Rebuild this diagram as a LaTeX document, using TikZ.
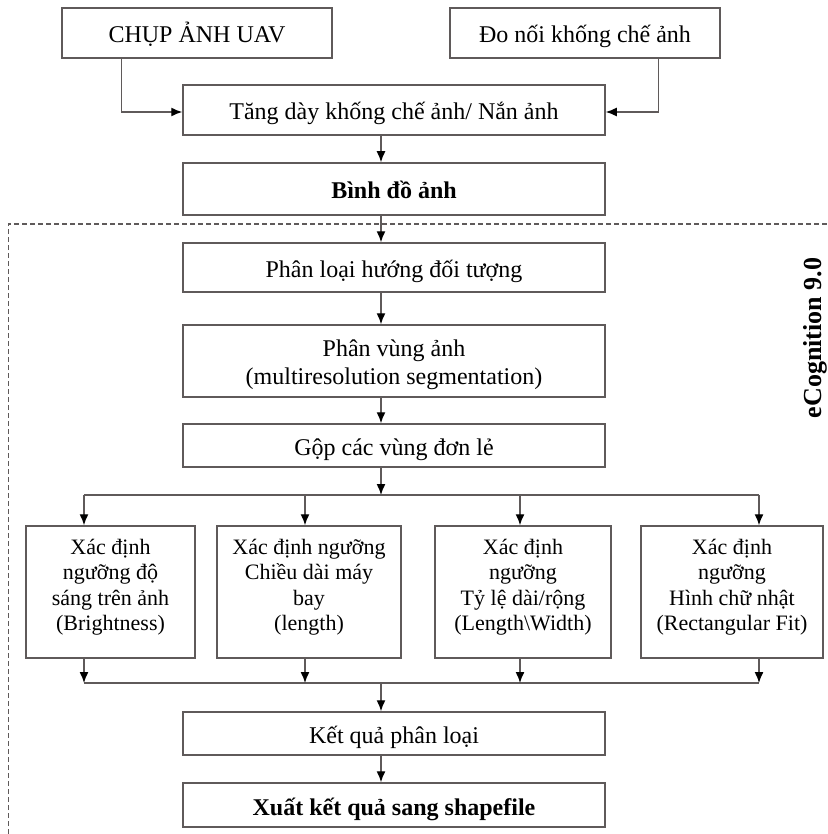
\documentclass[tikz,border=0pt]{standalone}
\usepackage{fontspec}
\setmainfont{Liberation Serif}
\usetikzlibrary{arrows.meta,calc}
\definecolor{ln}{RGB}{95,90,90}
\begin{document}
\begin{tikzpicture}[x=1pt,y=-1pt,
  box/.style={draw=ln,line width=1.5pt,rectangle,inner sep=2pt,align=center,
    font=\fontsize{24}{28.5}\selectfont},
  one/.style={box,text height=22pt,text depth=2pt},
  smallbox/.style={box,font=\fontsize{22}{25.5}\selectfont},
  arr/.style={draw=ln,line width=1.4pt,-{Latex[length=11pt,width=9pt,color=black]}},
  lnk/.style={draw=ln,line width=1.4pt},
  dsh/.style={draw=ln,line width=1pt,dash pattern=on 5pt off 3pt}]
\useasboundingbox (0,0) rectangle (827,834);
% top boxes
\node[one,minimum width=270,minimum height=50] (b1) at (197,33) {CHỤP ẢNH UAV};
\node[one,minimum width=270,minimum height=50] (b2) at (585,33) {Đo nối khống chế ảnh};
\node[one,minimum width=422,minimum height=50] (b3) at (394,110) {Tăng dày khống chế ảnh/ Nắn ảnh};
\node[one,minimum width=422,minimum height=52] (b4) at (394,189) {\textbf{Bình đồ ảnh}};
% eCognition frame
\coordinate (fr1) at (8,834);
\coordinate (fr2) at (8,224);
\coordinate (fr3) at (827,224);
\draw[dsh] (fr1) -- (fr2) -- (fr3);
\node[rotate=90,font=\fontsize{26}{30}\selectfont\bfseries] (eco) at (815,338) {eCognition 9.0};
% inner boxes
\node[one,minimum width=422,minimum height=49] (b5) at (394,267.5) {Phân loại hướng đối tượng};
\node[box,minimum width=422,minimum height=72,text height=49pt,text depth=2pt] (b6) at (394,361) {Phân vùng ảnh\\(multiresolution segmentation)};
\node[one,minimum width=422,minimum height=43] (b7) at (394,445.5) {Gộp các vùng đơn lẻ};
\node[smallbox,minimum width=169,minimum height=132,text depth=14pt] (ba) at (110.5,592) {Xác định\\ngưỡng độ\\sáng trên ảnh\\(Brightness)};
\node[smallbox,minimum width=184,minimum height=132,text depth=14pt] (bb) at (309,592) {Xác định ngưỡng\\Chiều dài máy\\bay\\(length)};
\node[smallbox,minimum width=176,minimum height=132,text depth=14pt] (bc) at (523,592) {Xác định\\ngưỡng\\Tỷ lệ dài/rộng\\(Length\textbackslash Width)};
\node[smallbox,minimum width=182,minimum height=132,text depth=14pt] (bd) at (732,592) {Xác định\\ngưỡng\\Hình chữ nhật\\(Rectangular Fit)};
\node[one,minimum width=422,minimum height=43] (b12) at (394,733.5) {Kết quả phân loại};
\node[one,minimum width=422,minimum height=44] (b13) at (394,805) {\textbf{Xuất kết quả sang shapefile}};
% connectors
\draw[arr] ($(b1.south west)+(60,0)$) |- ($(b3.west)+(0,2)$);
\draw[arr] ($(b2.south west)+(209,0)$) |- ($(b3.east)+(0,2)$);
\draw[arr] ($(b3.south)+(-13,0)$) -- ($(b4.north)+(-13,0)$);
\draw[arr] ($(b4.south)+(-13,0)$) -- ($(b5.north)+(-13,0)$);
\draw[arr] ($(b5.south)+(-13,0)$) -- ($(b6.north)+(-13,0)$);
\draw[arr] ($(b6.south)+(-13,0)$) -- ($(b7.north)+(-13,0)$);
% branch
\coordinate (sp) at (381,495);
\coordinate (spL) at (84,495);
\coordinate (spR) at (759,495);
\draw[arr] ($(b7.south)+(-13,0)$) -- (sp);
\draw[lnk] (spL) -- (spR);
\draw[arr] (spL) -- (spL |- ba.north);
\draw[arr] (305,495) -- (305,0 |- bb.north);
\draw[arr] (520,495) -- (520,0 |- bc.north);
\draw[arr] (spR) -- (spR |- bd.north);
% merge
\coordinate (mg) at (381,683);
\coordinate (mgL) at (84,683);
\coordinate (mgR) at (759,683);
\draw[lnk] (mgL) -- (mgR);
\draw[arr] (ba.south -| mgL) -- (mgL);
\draw[arr] (bb.south -| 305,0) -- (305,683);
\draw[arr] (bc.south -| 520,0) -- (520,683);
\draw[arr] (bd.south -| mgR) -- (mgR);
\draw[arr] (mg) -- ($(b12.north)+(-13,0)$);
\draw[arr] ($(b12.south)+(-13,0)$) -- ($(b13.north)+(-13,0)$);
\end{tikzpicture}
\end{document}
